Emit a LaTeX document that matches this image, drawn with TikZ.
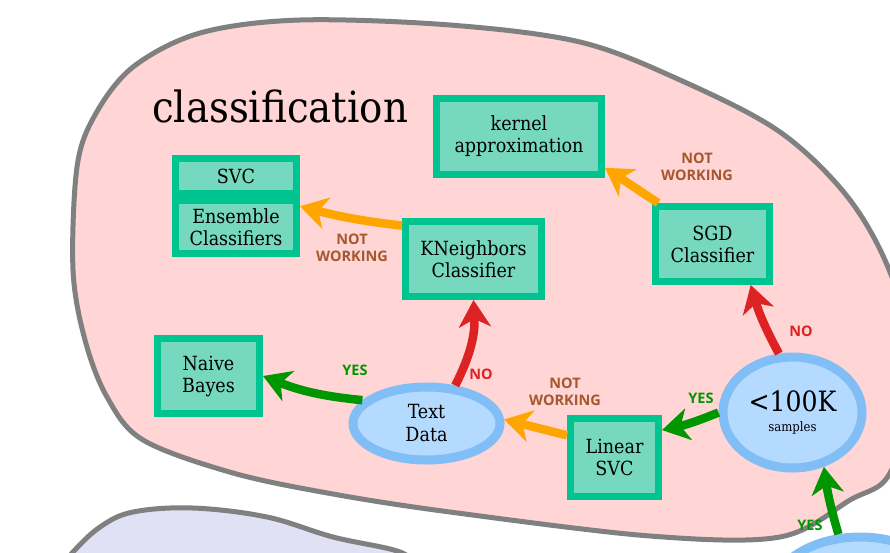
\documentclass[tikz,border=0pt]{standalone}
\usepackage{fontspec}
\setmainfont{DejaVu Serif Condensed}
\newfontfamily\tagfont{Open Sans}
\usetikzlibrary{arrows.meta,shapes.geometric,shadows}

\definecolor{blobpink}{RGB}{255,213,213}
\definecolor{bloblilac}{RGB}{225,225,245}
\definecolor{blobline}{RGB}{128,128,128}
\definecolor{boxgreen}{RGB}{0,196,144}
\definecolor{boxfill}{RGB}{118,216,190}
\definecolor{ringblue}{RGB}{128,190,245}
\definecolor{ellfill}{RGB}{181,218,255}
\definecolor{yesgreen}{RGB}{0,150,0}
\definecolor{nored}{RGB}{220,34,34}
\definecolor{nwyellow}{RGB}{255,165,0}
\definecolor{nwbrown}{RGB}{165,88,45}

\begin{document}
\begin{tikzpicture}[x=1pt,y=-1pt,
  algbox/.style={draw=boxgreen, line width=7pt, fill=boxfill, inner sep=0pt,
    align=center, font=\fontsize{19.5}{22}\selectfont,
    path picture={\draw[black, opacity=0.25, line width=7pt]
      (path picture bounding box.south west) rectangle (path picture bounding box.north east);},
    drop shadow={opacity=0.25, shadow xshift=2.5pt, shadow yshift=-2.5pt}},
  testell/.style={ellipse, draw=ringblue, line width=9pt, fill=ellfill,
    inner sep=0pt, align=center, font=\fontsize{19.5}{23}\selectfont,
    drop shadow={opacity=0.25, shadow xshift=2.5pt, shadow yshift=-2.5pt}},
  arr/.style={line width=8.5pt, -{Stealth[length=27pt,width=32pt,inset=8pt]}},
  yesarr/.style={arr, draw=yesgreen},
  noarr/.style={arr, draw=nored},
  nwarr/.style={arr, draw=nwyellow},
  tag/.style={font=\tagfont\bfseries\fontsize{14.5}{17}\selectfont, align=center},
  yestag/.style={tag, text=yesgreen},
  notag/.style={tag, text=nored},
  nwtag/.style={tag, text=nwbrown},
]
\useasboundingbox (0,0) rectangle (890,552);
\clip (0,0) rectangle (890,552);

% the two regions
\draw[line width=5pt, draw=blobline, fill=bloblilac]
  plot[smooth, tension=0.6] coordinates {(60,570) (73,552) (100,527) (133,512)
    (193,508) (267,517) (333,537) (400,552) (420,570)};
\draw[line width=5pt, draw=blobline, fill=blobpink]
  plot[smooth cycle, tension=0.55] coordinates {(73,270) (77,167) (95,115)
    (133,67) (200,33) (300,20) (450,25) (580,42) (680,80) (780,132) (850,200)
    (893,280) (915,380) (890,473) (850,500) (780,537) (650,536) (450,512)
    (333,494) (233,473) (143,440) (107,397) (85,340)};

\node[font=\fontsize{43}{46}\selectfont, anchor=base west, inner sep=0pt] (title) at (152,122) {classification};

% estimators
\node[algbox, minimum width=121pt, minimum height=35pt] (svc) at (236,176) {SVC};
\node[algbox, minimum width=121pt, minimum height=53pt] (ens) at (236,227) {Ensemble\\Classifiers};
\node[algbox, minimum width=165pt, minimum height=76pt] (kernel) at (519,136.5) {kernel\\approximation};
\node[algbox, minimum width=136pt, minimum height=75pt] (kneigh) at (473.5,259) {KNeighbors\\Classifier};
\node[algbox, minimum width=114pt, minimum height=75pt] (sgd) at (712.5,244) {SGD\\Classifier};
\node[algbox, minimum width=102pt, minimum height=75pt] (naive) at (208.5,376) {Naive\\Bayes};
\node[algbox, minimum width=88pt, minimum height=78pt] (linsvc) at (614.5,457.5) {Linear\\SVC};

% tests
\node[testell, minimum width=147pt, minimum height=73pt] (text) at (426.5,423.5) {Text\\Data};
\node[testell, minimum width=139pt, minimum height=111pt] (samples) at (792.5,412.5)
  {{\fontsize{28}{30}\selectfont <100K}\\[-3pt]{\fontsize{13}{15}\selectfont samples}};
\node[testell, minimum width=180pt, minimum height=120pt] (bot) at (860,597) {};

% connectors
\draw[nwarr] (kneigh.155) to[bend left=4] (ens.18);
\draw[nwarr] (sgd.143) -- (kernel.-20);
\draw[noarr] (samples.103) to[bend left=6] (sgd.-47);
\draw[yesarr] (samples.180) to[bend left=5] (linsvc.30);
\draw[nwarr] (linsvc.155) -- (text.3);
\draw[noarr] (text.53) to[bend right=15] (kneigh.south);
\draw[yesarr] (text.160) to[bend left=8] (naive.east);
\draw[yesarr] (bot.109) to[bend left=4] (samples.-60);

% answers
\node[nwtag] (nw1) at (352,248) {NOT\\WORKING};
\node[nwtag] (nw2) at (697,167) {NOT\\WORKING};
\node[nwtag] (nw3) at (565,392) {NOT\\WORKING};
\node[notag] (no1) at (801,331) {NO};
\node[notag] (no2) at (481,374) {NO};
\node[yestag] (yes1) at (701,398) {YES};
\node[yestag] (yes2) at (355,370) {YES};
\node[yestag] (yes3) at (810,525) {YES};
\end{tikzpicture}
\end{document}
